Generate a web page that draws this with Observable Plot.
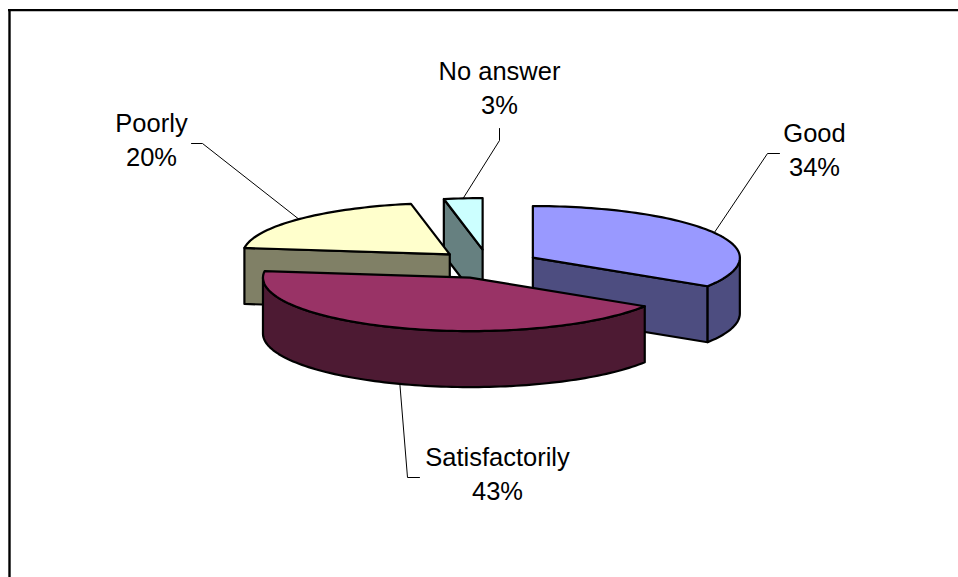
<!DOCTYPE html>
<html>
<head>
<meta charset="utf-8">
<style>html,body{margin:0;padding:0;background:#fff}svg{display:block}</style>
<script src="https://cdn.jsdelivr.net/npm/d3@7"></script>
<script src="https://cdn.jsdelivr.net/npm/@observablehq/plot@0.6"></script>
</head>
<body>
<div id="chart"></div>
<script>
const categories = ["Good", "Satisfactorily", "Poorly", "No answer"];
const values = [34, 43, 20, 3];
const topColors = ["#9999ff", "#993366", "#ffffcc", "#ccffff"];
const sideColors = ["#4d4d80", "#4d1a33", "#808066", "#668080"];
// label centre and leader elbow points for each category
const labelX = [814, 497, 151, 499];
const labelY = [148, 472, 138, 85.5];
const elbows = [[[767,153],[779,153]], [[407,477],[419,477]], [[202,143],[191,143]], [[499,140],[499,128]]];

// pie projection
const C = {x: 487, y: 264.5, rx: 207, ryBack: 51.5, ryFront: 53.5, depth: 56, ex: 0.25, eyBack: 0.3, eyFront: 0.25};
const rad = d => d * Math.PI / 180;
const ell = (c, t) => {
  const cos = Math.cos(rad(t));
  return {x: c.x + C.rx * Math.sin(rad(t)), y: c.y - (cos > 0 ? C.ryBack : C.ryFront) * cos};
};
const total = d3.sum(values);
let acc = 0;
const slices = values.map((v, i) => {
  const a0 = acc / total * 360; acc += v; const a1 = acc / total * 360;
  const m = (a0 + a1) / 2, cos = Math.cos(rad(m));
  const c = {
    x: C.x + C.ex * C.rx * Math.sin(rad(m)),
    y: C.y - (cos > 0 ? C.eyBack * C.ryBack : C.eyFront * C.ryFront) * cos
  };
  return {i, a0, a1, m, c};
});
const arc = (c, a, b) => {
  const n = Math.max(2, Math.ceil(Math.abs(b - a) / 1.5));
  return d3.range(n + 1).map(k => ell(c, a + (b - a) * k / n));
};
const down = p => ({x: p.x, y: p.y + C.depth});
const poly = (pts, fill) => Plot.line(pts, {x: "x", y: "y", curve: "linear-closed", fill, stroke: "#000", strokeWidth: 2.2, strokeLinejoin: "round"});

const [good, sat, poor, none] = slices;
const topFace = s => [s.c, ...arc(s.c, s.a0, s.a1)];
const cutWall = (s, a) => { const p = ell(s.c, a); return [s.c, p, down(p), down(s.c)]; };
const outerWall = (s, a, b) => { const e = arc(s.c, a, b); return [...e, ...e.map(down).reverse()]; };

const pieMarks = [
  // No answer
  poly(cutWall(none, none.a0), sideColors[3]),
  poly(topFace(none), topColors[3]),
  // Poorly
  poly(cutWall(poor, poor.a0), sideColors[2]),
  poly(topFace(poor), topColors[2]),
  // Good
  poly(cutWall(good, good.a1), sideColors[0]),
  poly(outerWall(good, 90, good.a1), sideColors[0]),
  poly(topFace(good), topColors[0]),
  // Satisfactorily
  poly(outerWall(sat, sat.a0, 270), sideColors[1]),
  poly(topFace(sat), topColors[1])
];

const leaders = slices.flatMap(s => {
  const p = ell(s.c, s.m);
  const start = s.i === 1 ? down(p) : p;
  return [start, ...elbows[s.i].map(([x, y]) => ({x, y}))].map(q => ({...q, z: s.i}));
});
const labels = categories.map((c, i) => ({t: `${c}\n${values[i]}%`, x: labelX[i], y: labelY[i]}));

const plot = Plot.plot({
  width: 958, height: 577, margin: 0,
  style: {background: "#fff"},
  x: {axis: null, domain: [0, 958], range: [0, 958]},
  y: {axis: null, domain: [0, 577], range: [0, 577]},
  marks: [
    Plot.ruleX([9], {y1: 9, y2: 577, stroke: "#000", strokeWidth: 2.4}),
    Plot.ruleY([9.6], {x1: 8, x2: 958, stroke: "#000", strokeWidth: 2.4}),
    Plot.line(leaders, {x: "x", y: "y", z: "z", stroke: "#000", strokeWidth: 1, curve: "linear"}),
    ...pieMarks,
    Plot.text(labels, {x: "x", y: "y", text: "t", fontSize: 25.5, lineHeight: 34 / 25.5, fill: "#000", fontFamily: "'Liberation Sans', Arial, sans-serif", textAnchor: "middle"})
  ]
});
document.getElementById("chart").appendChild(plot);
</script>
</body>
</html>
